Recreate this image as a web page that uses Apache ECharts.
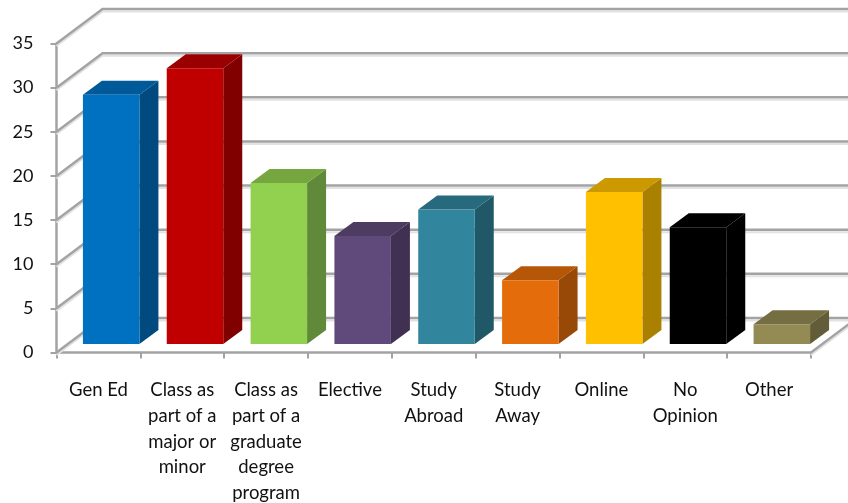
<!DOCTYPE html>
<html><head><meta charset="utf-8">
<style>html,body{margin:0;padding:0;background:#fff}#c{width:848px;height:503px}</style>
<script src="https://cdn.jsdelivr.net/npm/echarts@6/dist/echarts.min.js"></script></head>
<body><div id="c"></div>
<script>
const categories = ['Gen Ed','Class as\npart of a\nmajor or\nminor','Class as\npart of a\ngraduate\ndegree\nprogram','Elective','Study\nAbroad','Study\nAway','Online','No\nOpinion','Other'];
const values = [28,31,18,12,15,7,17,13,2];
const frontColors = ['#0070C0','#C00000','#92D050','#604A7B','#31859C','#E46C0A','#FFC000','#000000','#948A54'];
const topColors = ['#005A9A','#9A0000','#75A640','#4D3B62','#276A7D','#B65708','#CC9A00','#000000','#766E43'];
const sideColors = ['#004A80','#800000','#61893A','#403152','#215868','#984807','#AA8000','#000000','#635C38'];
const ticks = [0,5,10,15,20,25,30,35];

const WALL_DX = 46, WALL_DY = 34.5, BAR_DX = 19, BAR_DY = 14;
const chart = echarts.init(document.getElementById('c'), null, {renderer:'canvas'});
const gridLine = '#a3a3a3', gridShade = '#e2e2e2';

function wallItem(params, api) {
  const p = api.coord([0, api.value(0)]);
  const size = api.size([1, 0])[0];
  const x0 = p[0] - size / 2, y = p[1];
  const pts = [[x0, y], [x0 + WALL_DX, y - WALL_DY], [900, y - WALL_DY]];
  const shade = pts.map(q => [q[0], q[1] + 2.5]);
  return {type:'group', children:[
    {type:'polyline', shape:{points:shade}, style:{stroke:gridShade, lineWidth:2, fill:null}},
    {type:'polyline', shape:{points:pts}, style:{stroke:gridLine, lineWidth:2.5, fill:null}}
  ]};
}
function floorEdge(params, api) {
  const p = api.coord([8, 0]);
  const size = api.size([1, 0])[0];
  const x = p[0] + size / 2, y = p[1];
  return {type:'group', children:[
    {type:'line', shape:{x1:x, y1:y + 2.5, x2:x + WALL_DX, y2:y + 2.5 - WALL_DY}, style:{stroke:gridShade, lineWidth:2}},
    {type:'line', shape:{x1:x, y1:y, x2:x + WALL_DX, y2:y - WALL_DY}, style:{stroke:gridLine, lineWidth:2.5}}
  ]};
}
function barItem(params, api) {
  const i = api.value(0), v = api.value(1);
  const c = api.coord([i, v]), b = api.coord([i, 0]);
  const l = c[0] - 15.5, r = c[0] + 41;
  const t = c[1] - 10.5, bt = b[1] - 8.5;
  return {type:'group', children:[
    {type:'polygon', shape:{points:[[r, t], [r + BAR_DX, t - BAR_DY], [r + BAR_DX, bt - BAR_DY], [r, bt]]}, style:{fill:sideColors[i]}},
    {type:'polygon', shape:{points:[[l, t], [l + BAR_DX, t - BAR_DY], [r + BAR_DX, t - BAR_DY], [r, t]]}, style:{fill:topColors[i]}},
    {type:'rect', shape:{x:l, y:t, width:r - l, height:bt - t}, style:{fill:frontColors[i]}}
  ]};
}
chart.setOption({
  animation:false,
  backgroundColor:'#fff',
  textStyle:{fontFamily:'Lato'},
  grid:{left:56.5, right:37, top:43.5, bottom:150.5, containLabel:false, outerBoundsMode:'none'},
  xAxis:{type:'category', data:categories, boundaryGap:true,
    axisLine:{show:true, lineStyle:{color:gridLine, width:2.5}},
    axisTick:{show:true, alignWithLabel:false, length:6, lineStyle:{color:gridLine, width:2}},
    axisLabel:{interval:0, color:'#111', fontFamily:'Lato', fontSize:18.5, lineHeight:25.7, margin:25},
    splitLine:{show:false}},
  yAxis:{type:'value', min:0, max:35, interval:5,
    axisLine:{show:true, lineStyle:{color:gridLine, width:2.5}},
    axisTick:{show:true, length:6, lineStyle:{color:gridLine, width:2}},
    axisLabel:{color:'#111', fontFamily:'Lato', fontSize:18, margin:23, verticalAlign:'middle', padding:[2,0,0,0]},
    splitLine:{show:false}},
  series:[
    {type:'custom', silent:true, z:1, renderItem:wallItem, data:ticks.map(t => [t]), encode:{y:0}},
    {type:'custom', silent:true, z:1, renderItem:floorEdge, data:[[0]]},
    {type:'custom', silent:true, z:3, renderItem:barItem, data:values.map((v, i) => [i, v]), encode:{x:0, y:1}}
  ]
});
</script></body></html>
